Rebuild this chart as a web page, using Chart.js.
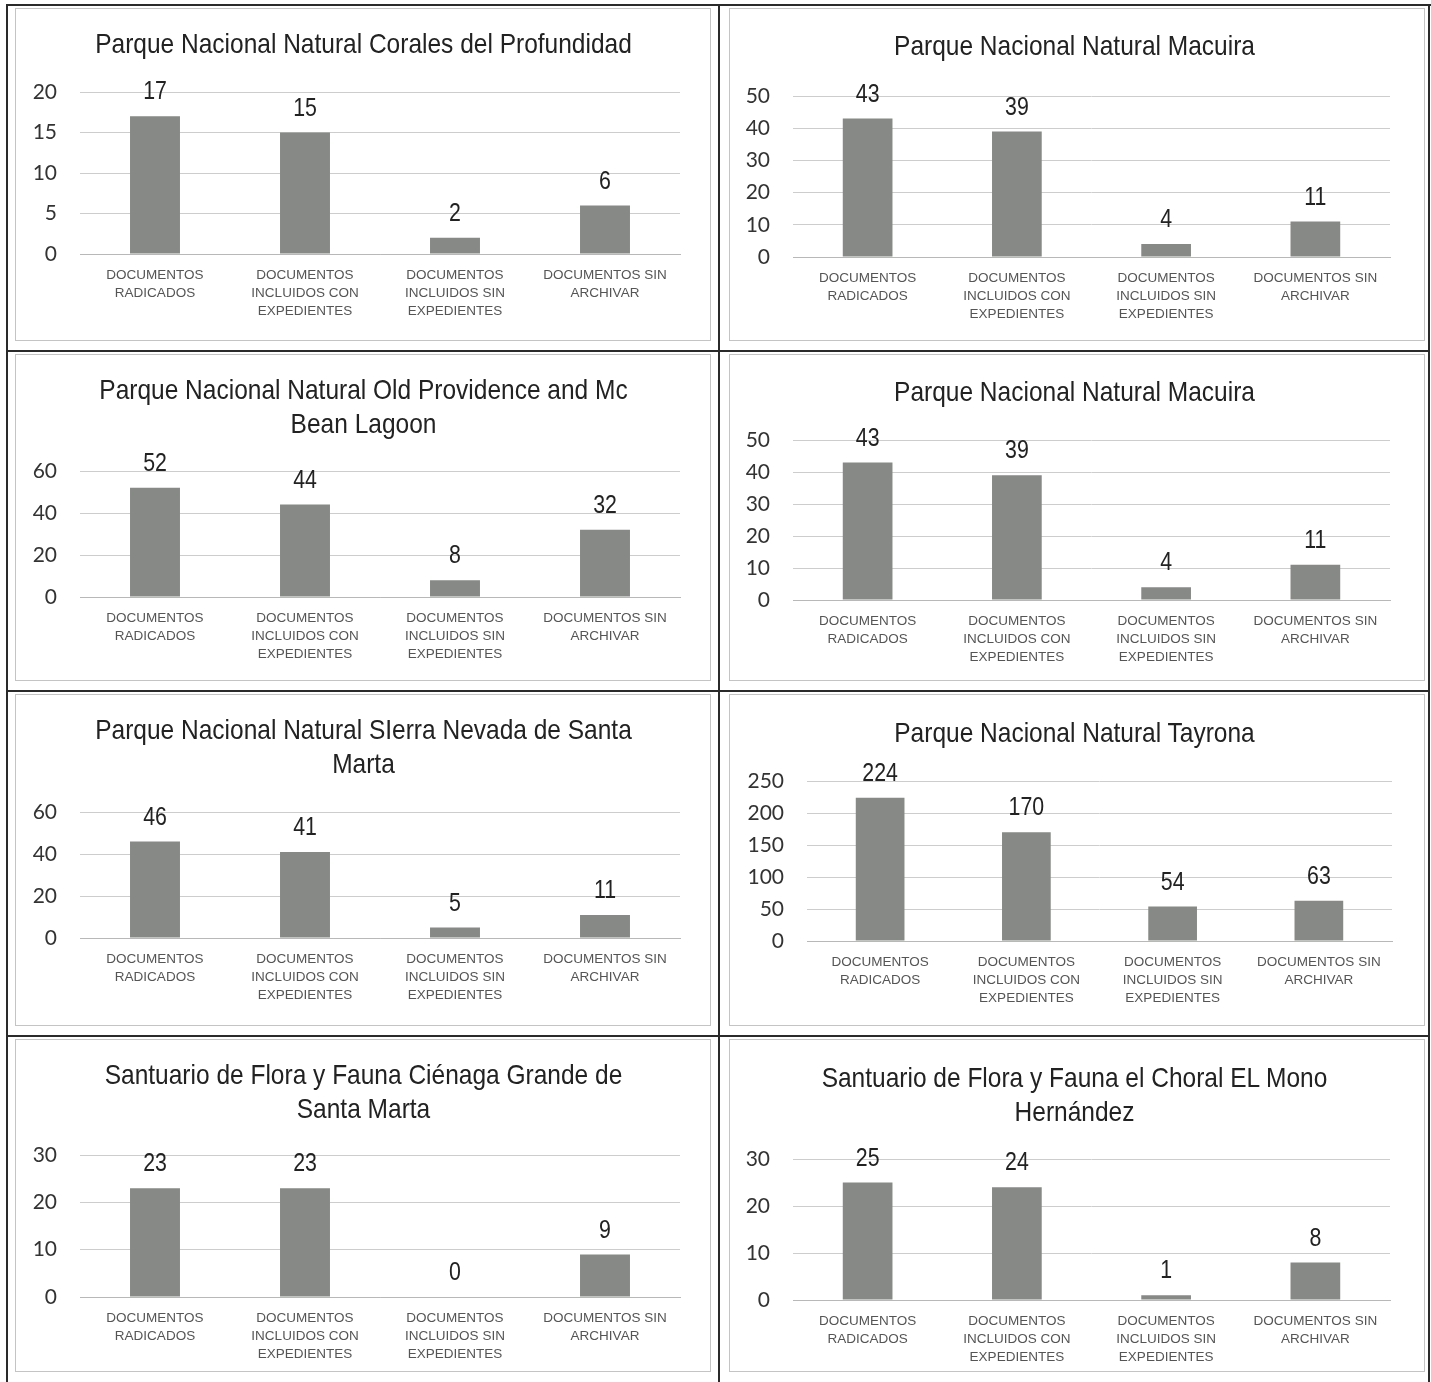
<!DOCTYPE html>
<html>
<head>
<meta charset="utf-8">
<script src="https://cdn.jsdelivr.net/npm/chart.js@4.4.1/dist/chart.umd.min.js"></script>
<style>
  html, body { margin: 0; padding: 0; background: #fff; }
  #page { position: relative; width: 1431px; height: 1382px; overflow: hidden; background: #fff; }
  .cell { position: absolute; }
  .cell canvas { position: absolute; left: 0; top: 0; }
  .title {
    position: absolute; left: 0; right: 0; text-align: center;
    font-family: "Liberation Sans", Arial, sans-serif;
    font-size: 28px; line-height: 34px; color: #222;
    transform: scaleX(0.875); transform-origin: 50% 0;
  }
  .line { position: absolute; background: #2a2a2a; }
  .box { position: absolute; border: 1px solid #c4c4c4; box-sizing: border-box; }
</style>
</head>
<body>
<div id="page"></div>
<script>
// category labels (same on every chart)
var categories = [
  ['DOCUMENTOS', 'RADICADOS'],
  ['DOCUMENTOS', 'INCLUIDOS CON', 'EXPEDIENTES'],
  ['DOCUMENTOS', 'INCLUIDOS SIN', 'EXPEDIENTES'],
  ['DOCUMENTOS SIN', 'ARCHIVAR']
];

// chart titles
var titles = [
  ['Parque Nacional Natural Corales del Profundidad'],
  ['Parque Nacional Natural Macuira'],
  ['Parque Nacional Natural Old Providence and Mc', 'Bean Lagoon'],
  ['Parque Nacional Natural Macuira'],
  ['Parque Nacional Natural SIerra Nevada de Santa', 'Marta'],
  ['Parque Nacional Natural Tayrona'],
  ['Santuario de Flora y Fauna Ciénaga Grande de', 'Santa Marta'],
  ['Santuario de Flora y Fauna el Choral EL Mono', 'Hernández']
];

// values per chart
var coralesValues   = [17, 15, 2, 6];
var macuiraValues   = [43, 39, 4, 11];
var oldProvValues   = [52, 44, 8, 32];
var macuira2Values  = [43, 39, 4, 11];
var sierraValues    = [46, 41, 5, 11];
var tayronaValues   = [224, 170, 54, 63];
var cienagaValues   = [23, 23, 0, 9];
var choralValues    = [25, 24, 1, 8];

var allValues = [coralesValues, macuiraValues, oldProvValues, macuira2Values,
                 sierraValues, tayronaValues, cienagaValues, choralValues];

// y axis max and tick step
var axisMax  = [20, 50, 60, 50, 60, 250, 30, 30];
var axisStep = [5, 10, 20, 10, 20, 50, 10, 10];

// page geometry
var colLeft  = [8, 720];
var colRight = [719, 1429];
var rowTop   = [5, 351, 691, 1036];
var rowBot   = [351, 691, 1036, 1382];
// plot areas [x0, x1, yTop, yBottom]
var plots = [
  [80, 680, 92, 254],
  [793, 1390, 96, 257],
  [80, 680, 471, 597],
  [793, 1390, 440, 600],
  [80, 680, 812, 938],
  [807, 1392, 781, 941],
  [80, 680, 1155, 1297],
  [793, 1390, 1159, 1300]
];
// title first-line centre
var titleY = [44, 46, 390, 392, 730, 733, 1075, 1078];

var Y_W = 60, X_H = 70;
var NARROW = 0.82;
var page = document.getElementById('page');

// frame lines
function addLine(x, y, w, h) {
  var d = document.createElement('div');
  d.className = 'line';
  d.style.left = x + 'px'; d.style.top = y + 'px';
  d.style.width = w + 'px'; d.style.height = h + 'px';
  page.appendChild(d);
}
addLine(6, 4, 1425, 2);
addLine(6, 4, 2, 1378);
addLine(718, 4, 2, 1378);
addLine(1428, 4, 2, 1378);
addLine(6, 350, 1424, 2);
addLine(6, 690, 1424, 2);
addLine(6, 1035, 1424, 2);

// light inner boxes
for (var r = 0; r < 4; r++) {
  for (var c = 0; c < 2; c++) {
    var b = document.createElement('div');
    b.className = 'box';
    var bl = c == 0 ? 15 : 729;
    var br = c == 0 ? 711 : 1425;
    b.style.left = bl + 'px';
    b.style.top = (rowTop[r] + 3) + 'px';
    b.style.width = (br - bl) + 'px';
    b.style.height = (rowBot[r] - rowTop[r] - 13) + 'px';
    page.appendChild(b);
  }
}

// value labels above bars (narrowed Liberation Sans, like Arial Narrow)
const valueLabels = {
  id: 'valueLabels',
  afterDatasetsDraw(chart) {
    var ctx = chart.ctx;
    var meta = chart.getDatasetMeta(0);
    ctx.save();
    ctx.scale(NARROW, 1);
    ctx.font = '26px "Liberation Sans", Arial, sans-serif';
    ctx.fillStyle = '#222';
    ctx.textAlign = 'center';
    ctx.textBaseline = 'middle';
    meta.data.forEach(function (bar, j) {
      ctx.fillText(chart.data.datasets[0].data[j], bar.x / NARROW, bar.y - 24);
    });
    ctx.restore();
  }
};

allValues.forEach(function (vals, i) {
  var r = Math.floor(i / 2), c = i % 2;
  var L = colLeft[c], R = colRight[c], T = rowTop[r], B = rowBot[r];
  var p = plots[i];

  var cell = document.createElement('div');
  cell.className = 'cell';
  cell.style.left = L + 'px'; cell.style.top = T + 'px';
  cell.style.width = (R - L) + 'px'; cell.style.height = (B - T) + 'px';
  page.appendChild(cell);

  var cv = document.createElement('canvas');
  cv.width = R - L; cv.height = B - T;
  cv.style.width = (R - L) + 'px'; cv.style.height = (B - T) + 'px';
  cell.appendChild(cv);

  var t = document.createElement('div');
  t.className = 'title';
  t.style.top = (titleY[i] - T - 17) + 'px';
  t.innerHTML = titles[i].join('<br>');
  cell.appendChild(t);

  new Chart(cv, {
    type: 'bar',
    data: {
      labels: categories,
      datasets: [{
        data: vals,
        backgroundColor: '#868985',
        barPercentage: 0.333,
        categoryPercentage: 1
      }]
    },
    options: {
      responsive: false,
      animation: false,
      layout: {
        padding: {
          left: p[0] - L - Y_W,
          right: R - p[1],
          top: p[2] - T,
          bottom: B - p[3] - X_H
        }
      },
      plugins: {
        legend: { display: false },
        tooltip: { enabled: false }
      },
      scales: {
        x: {
          afterFit: function (s) { s.height = X_H; },
          grid: { display: false, drawTicks: false },
          border: { display: true, color: '#b8b8b8', width: 1 },
          ticks: {
            padding: 12,
            maxRotation: 0,
            autoSkip: false,
            color: '#555',
            font: { family: '"Liberation Sans", Arial, sans-serif', size: 13.5, lineHeight: 1.35 }
          }
        },
        y: {
          min: 0,
          max: axisMax[i],
          afterFit: function (s) { s.width = Y_W; },
          grid: { color: '#cdcdcd', drawTicks: false },
          border: { display: false },
          ticks: {
            stepSize: axisStep[i],
            padding: 23,
            color: '#333',
            font: { family: 'Lato, "Open Sans", sans-serif', size: 21 }
          }
        }
      }
    },
    plugins: [valueLabels]
  });
});
</script>
</body>
</html>
